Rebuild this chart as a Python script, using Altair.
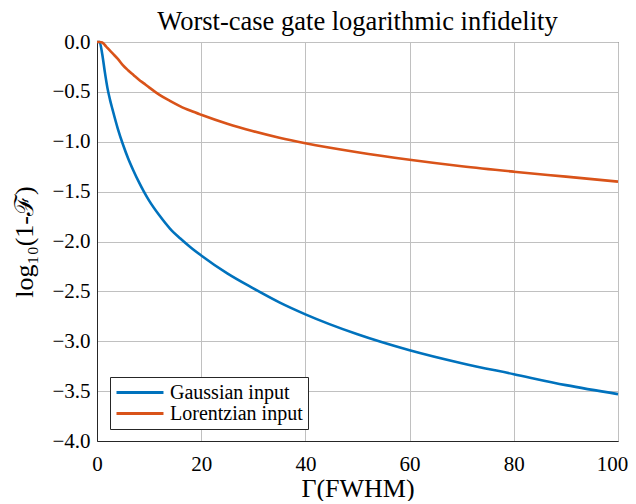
import altair as alt
import pandas as pd

# Gaussian input series
gauss_x = [0, 0.5, 1, 1.5, 2, 2.5, 3, 4, 5, 6, 7, 8, 9, 10, 12, 14, 16, 18, 20,
           25, 30, 35, 40, 50, 60, 70, 80, 90, 100]
gauss_y = [0, 0, -0.12, -0.30, -0.46, -0.58, -0.68, -0.87, -1.03, -1.17, -1.29,
           -1.40, -1.50, -1.59, -1.74, -1.87, -1.97, -2.06, -2.14, -2.32, -2.47,
           -2.61, -2.73, -2.93, -3.09, -3.22, -3.33, -3.44, -3.53]

# Lorentzian input series
lor_x = [0, 0.5, 1, 1.5, 2, 3, 4, 5, 6, 7, 8, 9, 10, 12, 14, 16, 18, 20, 25, 30,
         35, 40, 50, 60, 70, 80, 90, 100]
lor_y = [0, 0, -0.005, -0.03, -0.06, -0.115, -0.17, -0.235, -0.285, -0.33, -0.375,
         -0.415, -0.455, -0.53, -0.59, -0.645, -0.69, -0.73, -0.82, -0.895, -0.96,
         -1.015, -1.105, -1.18, -1.245, -1.30, -1.35, -1.40]

series_names = ["Gaussian input", "Lorentzian input"]
series_colors = ["#0072BD", "#D95319"]
x_ticks = [0, 20, 40, 60, 80, 100]
y_ticks = [-4.0, -3.5, -3.0, -2.5, -2.0, -1.5, -1.0, -0.5, 0.0]

df = pd.concat([
    pd.DataFrame({"gamma": gauss_x, "val": gauss_y, "series": series_names[0]}),
    pd.DataFrame({"gamma": lor_x, "val": lor_y, "series": series_names[1]}),
], ignore_index=True)

FONT = "Liberation Serif"
AX = "#262626"

chart = alt.Chart(df).mark_line(strokeWidth=2.6, interpolate="monotone").encode(
    x=alt.X("gamma:Q",
            scale=alt.Scale(domain=[0, 100], nice=False),
            axis=alt.Axis(values=x_ticks, format="d", title="Γ(FWHM)",
                          labelFont=FONT, labelFontSize=21, titleFont=FONT,
                          titleFontSize=26, labelPadding=12, titlePadding=1,
                          labelFlush=False,
                          labelOffset={"condition": {"test": "datum.value >= 100",
                                                     "value": -6},
                                       "value": 0})),
    y=alt.Y("val:Q",
            scale=alt.Scale(domain=[-4, 0], nice=False),
            axis=alt.Axis(values=y_ticks, format=".1f", title="log₁₀(1-ℱ)",
                          labelFont=FONT, labelFontSize=21, titleFont=FONT,
                          titleFontSize=26, labelPadding=7, titlePadding=14,
                          labelFlush=False)),
    color=alt.Color("series:N",
                    scale=alt.Scale(domain=series_names, range=series_colors),
                    legend=alt.Legend(title=None, orient="none", legendX=13, legendY=335,
                                      symbolType="M-1,0H4.22", symbolSize=324,
                                      symbolStrokeWidth=3, labelFont=FONT,
                                      labelFontSize=20, labelColor="black",
                                      labelOffset=34, rowPadding=0, padding=5,
                                      fillColor="white", strokeColor=AX,
                                      cornerRadius=0)),
    order=alt.Order("gamma:Q"),
).properties(
    width=521,
    height=399,
    title=alt.Title("Worst-case gate logarithmic infidelity", font=FONT,
                    fontSize=26.5, fontWeight="normal", color="black",
                    anchor="middle", offset=-4),
    autosize=alt.AutoSizeParams(type="none"),
    padding={"left": 89, "top": 34, "right": 10, "bottom": 60},
).configure(font=FONT).configure_axis(
    labelFont=FONT, labelFontSize=21, labelColor="black",
    titleFont=FONT, titleFontSize=26, titleColor="black", titleFontWeight="normal",
    domainColor=AX, domainWidth=1, ticks=False, tickSize=0,
    gridColor="#c0c0c0", gridWidth=1,
).configure_view(stroke=AX, strokeWidth=1)

chart.save("out.html", embed_options={"renderer": "svg", "actions": False})
